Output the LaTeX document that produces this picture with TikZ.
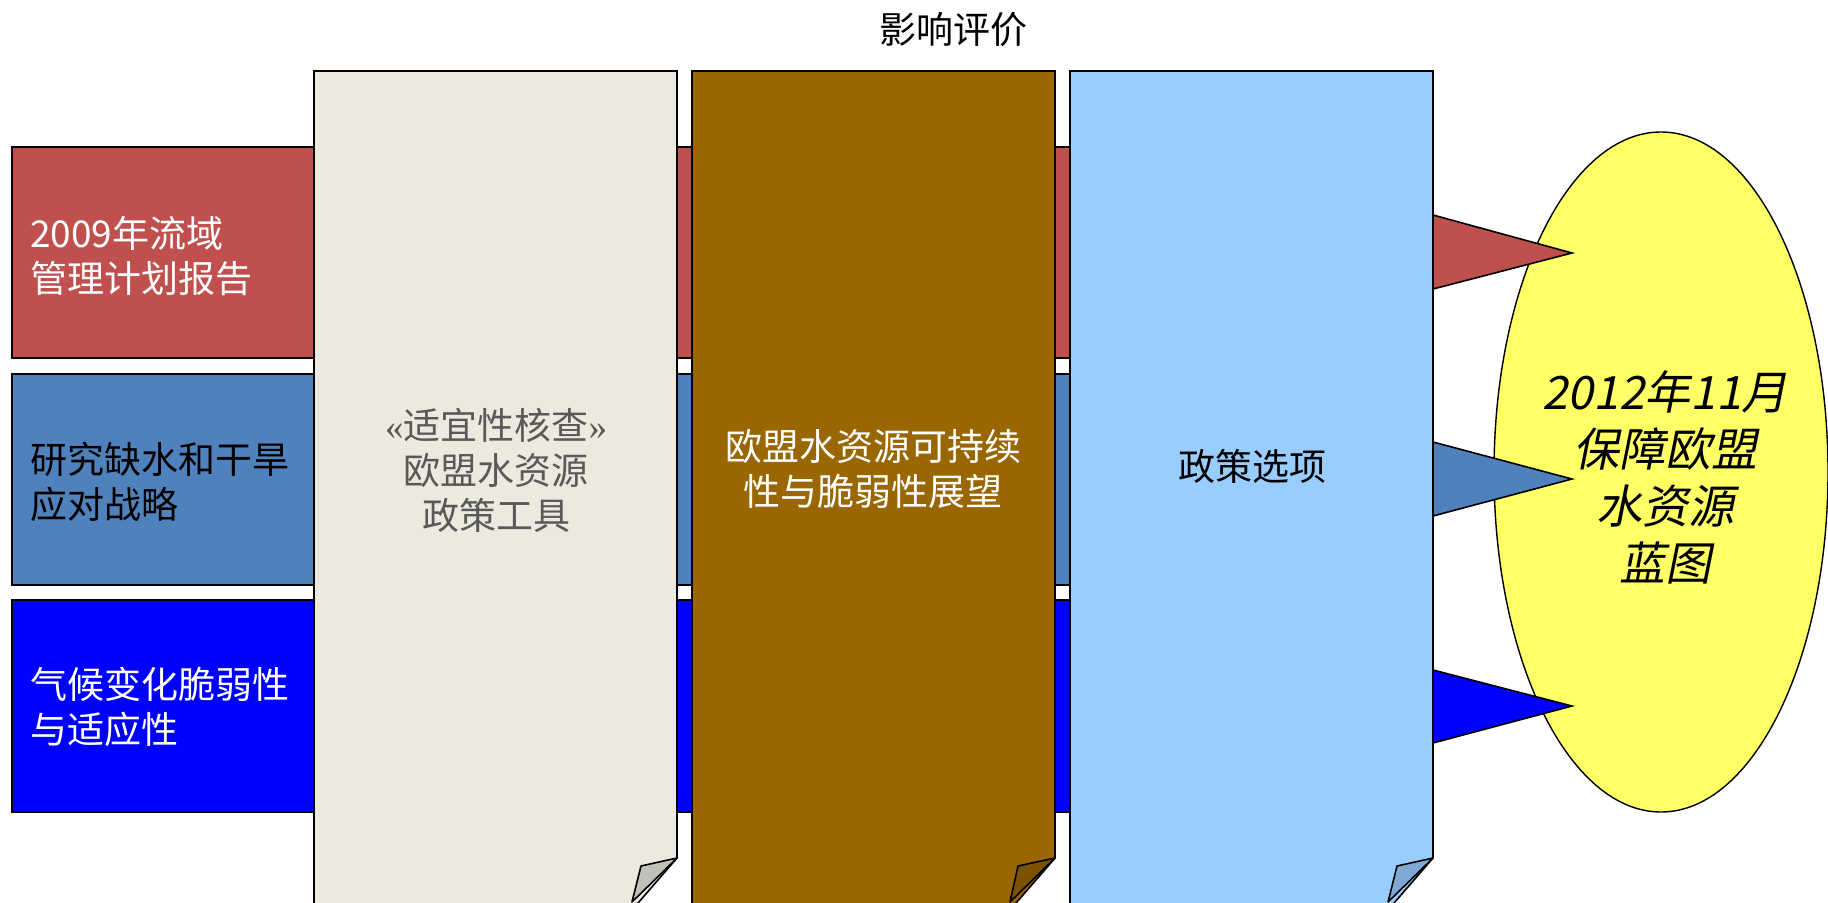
\documentclass[tikz,border=0pt]{standalone}
\usepackage{fontspec}
\usetikzlibrary{shapes.geometric}
\setmainfont{Liberation Serif}
\newfontfamily\cjk{Noto Sans CJK SC}
\newfontfamily\cjkit[FakeSlant=0.2]{Noto Sans CJK SC}
\definecolor{bandred}{HTML}{C0504D}
\definecolor{bandsteel}{HTML}{4F81BD}
\definecolor{bandblue}{HTML}{0000FF}
\definecolor{docA}{HTML}{ECEADF}
\definecolor{docAflap}{HTML}{C2C1B8}
\definecolor{docB}{HTML}{996600}
\definecolor{docBflap}{HTML}{7A5200}
\definecolor{docC}{HTML}{99CCFF}
\definecolor{docCflap}{HTML}{7FA9D4}
\definecolor{ovalfill}{HTML}{FFFF66}
\definecolor{docAtext}{HTML}{595959}
\begin{document}
\begin{tikzpicture}[x=1pt,y=-1pt,
  band/.style={draw=black,line width=2pt},
  doc/.style={draw=black,line width=1.6pt,line join=miter},
  flap/.style={draw=black,line width=1.6pt,line join=round},
  tri/.style={draw=black,line width=1.6pt,line join=miter},
  lbl/.style={font=\cjk\fontsize{37}{45}\selectfont,inner sep=0pt,align=left,anchor=west},
  ctr/.style={font=\cjk\fontsize{37}{45}\selectfont,inner sep=0pt,align=center}]
\useasboundingbox (0,0) rectangle (1828,902);
\clip (0,0) rectangle (1828,902);
% bands
\draw[band,fill=bandred] (12,147) rectangle (1250,358);
\draw[band,fill=bandsteel] (12,374) rectangle (1250,585);
\draw[band,fill=bandblue] (12,600) rectangle (1250,812);
\node[lbl,text=white] (t1) at (30,256) {2009年流域\\管理计划报告};
\node[lbl,text=black] (t2) at (30,482) {研究缺水和干旱\\应对战略};
\node[lbl,text=white] (t3) at (30,707) {气候变化脆弱性\\与适应性};
% oval
\node[draw=black,line width=1.4pt,fill=ovalfill,ellipse,minimum width=334pt,minimum height=680pt,inner sep=0pt] (oval) at (1661,472) {};
\node[font=\cjkit\fontsize{46}{57}\selectfont,inner sep=0pt,align=center] (ovtxt) at (1665,477) {2012年11月\\保障欧盟\\水资源\\蓝图};
% triangles
\draw[tri,fill=bandred] (1433,215) -- (1572,253) -- (1433,289) -- cycle;
\draw[tri,fill=bandsteel] (1433,442) -- (1572,479) -- (1433,516) -- cycle;
\draw[tri,fill=bandblue] (1433,670) -- (1572,706) -- (1433,743) -- cycle;
% documents
\draw[doc,fill=docA] (314,910) -- (314,71) -- (677,71) -- (677,858) -- (632,910) -- cycle;
\draw[flap,fill=docAflap] (677,858) -- (641,866) -- (632,902) -- cycle;
\draw[doc,fill=docB] (692,910) -- (692,71) -- (1055,71) -- (1055,858) -- (1010,910) -- cycle;
\draw[flap,fill=docBflap] (1055,858) -- (1018,866) -- (1010,902) -- cycle;
\draw[doc,fill=docC] (1070,910) -- (1070,71) -- (1433,71) -- (1433,858) -- (1388,910) -- cycle;
\draw[flap,fill=docCflap] (1433,858) -- (1397,866) -- (1388,902) -- cycle;
\node[ctr,text=docAtext] (d1) at (496,470) {{\rmfamily«}适宜性核查{\rmfamily»}\\欧盟水资源\\政策工具};
\node[ctr,text=white] (d2) at (873,469) {欧盟水资源可持续\\性与脆弱性展望};
\node[ctr,text=black] (d3) at (1252,466) {政策选项};
\node[font=\cjk\fontsize{37}{45}\selectfont,inner sep=0pt] (title) at (953,30) {影响评价};
\end{tikzpicture}
\end{document}
